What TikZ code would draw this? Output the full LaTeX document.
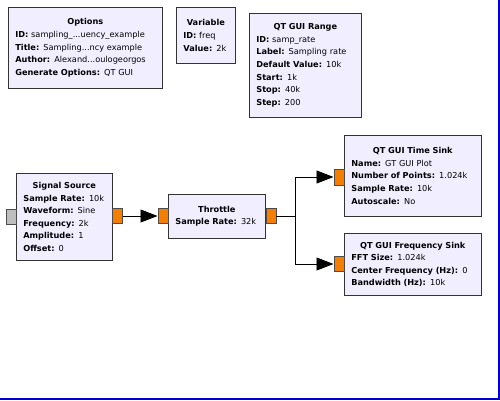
\documentclass[tikz,border=0pt]{standalone}
\usepackage{fontspec}
\setmainfont{DejaVu Sans}
\usetikzlibrary{arrows.meta}

\definecolor{blockfill}{RGB}{241,238,255}
\definecolor{portorange}{RGB}{245,125,0}
\definecolor{portgray}{RGB}{190,190,190}
\definecolor{frameblue}{RGB}{0,0,210}

\newcommand{\btitle}[1]{\hfil\textbf{#1}\hfil\\}

\begin{document}
\begin{tikzpicture}[x=1pt, y=-1pt,
  blockbox/.style={draw=black!80, fill=blockfill, line width=0.7pt, anchor=north west,
    inner xsep=7pt, inner ysep=0pt, align=left,
    font=\fontsize{8.2}{12.6}\selectfont},
  outport/.style={draw=black!70, fill=portorange, line width=0.5pt, minimum width=10pt,
    minimum height=15pt, inner sep=0pt},
  idleport/.style={outport, fill=portgray},
  conn/.style={line width=0.8pt, -{Triangle[length=17pt, width=13pt]}},
  wire/.style={line width=0.8pt}
]
\useasboundingbox (0,0) rectangle (500,400);

% variables and options
\node[blockbox, text width=140pt, minimum height=81pt] (options) at (8,7)
  {\btitle{Options}\textbf{ID:} sampling\_...uency\_example\\
   \textbf{Title:} Sampling...ncy example\\
   \textbf{Author:} Alexand...oulogeorgos\\
   \textbf{Generate Options:} QT GUI};
\node[blockbox, text width=45pt, minimum height=56pt] (freq) at (176,7)
  {\btitle{Variable}\textbf{ID:} freq\\
   \textbf{Value:} 2k};
\node[blockbox, text width=98pt, minimum height=104pt] (samprate) at (249,13)
  {\btitle{QT GUI Range}\textbf{ID:} samp\_rate\\
   \textbf{Label:} Sampling rate\\
   \textbf{Default Value:} 10k\\
   \textbf{Start:} 1k\\
   \textbf{Stop:} 40k\\
   \textbf{Step:} 200};

% blocks
\node[blockbox, text width=82pt, minimum height=87pt] (source) at (16,173)
  {\btitle{Signal Source}\textbf{Sample Rate:} 10k\\
   \textbf{Waveform:} Sine\\
   \textbf{Frequency:} 2k\\
   \textbf{Amplitude:} 1\\
   \textbf{Offset:} 0};
\node[blockbox, text width=83pt, minimum height=44pt] (throttle) at (168,194)
  {\btitle{Throttle}\textbf{Sample Rate:} 32k};
\node[blockbox, text width=123pt, minimum height=81pt] (timesink) at (344,135)
  {\btitle{QT GUI Time Sink}\textbf{Name:} GT GUI Plot\\
   \textbf{Number of Points:} 1.024k\\
   \textbf{Sample Rate:} 10k\\
   \textbf{Autoscale:} No};
\node[blockbox, text width=123pt, minimum height=62pt] (freqsink) at (344,233)
  {\btitle{QT GUI Frequency Sink}\textbf{FFT Size:} 1.024k\\
   \textbf{Center Frequency (Hz):} 0\\
   \textbf{Bandwidth (Hz):} 10k};

% ports
\node[idleport, anchor=east] (srcin) at (source.west) {};
\node[outport, anchor=west] (srcout) at (source.west |- 0,216) [xshift=96pt] {};
\node[outport, anchor=east] (thrin) at (throttle.west |- 0,216) {};
\node[outport, anchor=west] (throut) at (throttle.east |- 0,216) {};
\node[outport, anchor=east, minimum height=16pt] (timein) at (timesink.west |- 0,177) {};
\node[outport, anchor=east] (freqin) at (freqsink.west |- 0,264) {};
\coordinate (split) at (295,216);

% connections
\draw[conn] (srcout) -- (thrin);
\draw[wire] (throut) -- (split);
\draw[conn] (split) |- (timein);
\draw[conn] (split) |- (freqin);

% canvas edge
\draw[frameblue, line width=2pt] (499,0) -- (499,399) -- (0,399);
\end{tikzpicture}
\end{document}
